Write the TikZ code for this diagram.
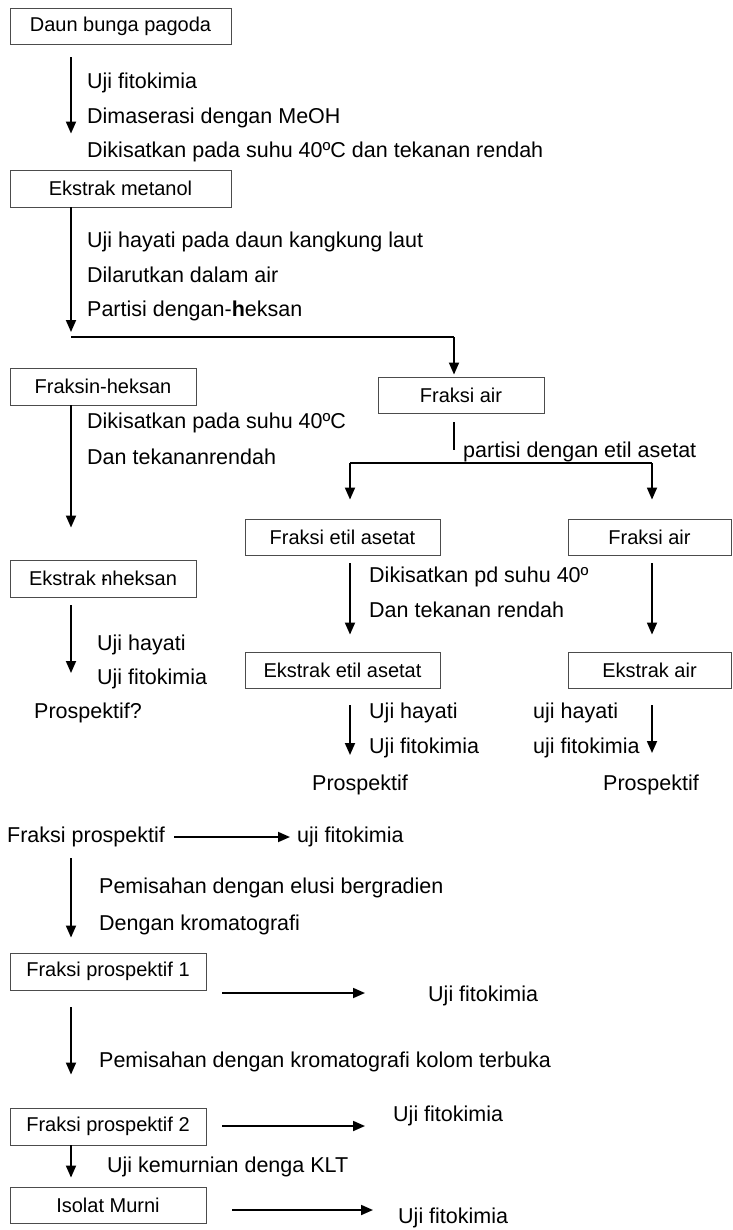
\documentclass[tikz,border=0pt]{standalone}
\usepackage{fontspec}
\setmainfont{Liberation Sans}
\usetikzlibrary{arrows.meta}

\begin{document}
\begin{tikzpicture}[x=1pt, y=-1pt,
    box/.style={draw=black!70, line width=0.9pt, inner sep=0pt, font=\fontsize{20}{24}\selectfont},
    lbl/.style={anchor=west, inner sep=0pt, font=\fontsize{21.5}{25}\selectfont},
    arr/.style={line width=1.8pt, -{Triangle[width=10pt,length=12pt]}},
    ln/.style={line width=1.1pt}]
                \useasboundingbox (0,0) rectangle (732,1230);
                % left column
                \node [box, minimum width=221pt, minimum height=36pt] (daun) at (120.5,26) {Daun bunga pagoda};
                \node [box, minimum width=221pt, minimum height=37pt] (metanol) at (120.5,188.5) {Ekstrak metanol};
                \node [box, minimum width=186pt, minimum height=37pt] (heksan) at (103,386.5) {Fraksin-heksan};
                \node [box, minimum width=186pt, minimum height=37pt] (nheksan) at (103,578.5) {Ekstrak \rlap{-}nheksan};
                % right part
                \node [box, minimum width=166pt, minimum height=36pt] (air) at (461,395) {Fraksi air};
                \node [box, minimum width=195pt, minimum height=36pt] (etil) at (342.5,537) {Fraksi etil asetat};
                \node [box, minimum width=163pt, minimum height=36pt] (airb) at (649.5,537) {Fraksi air};
                \node [box, minimum width=195pt, minimum height=36pt] (eketil) at (342.5,670) {Ekstrak etil asetat};
                \node [box, minimum width=163pt, minimum height=36pt] (ekair) at (649.5,670) {Ekstrak air};
                % bottom part
                \node [lbl] (fprosp) at (7,837) {Fraksi prospektif};
                \node [box, minimum width=196pt, minimum height=37pt] (fp1) at (108,971.5) {Fraksi prospektif 1};
                \node [box, minimum width=196pt, minimum height=37pt] (fp2) at (108,1126.5) {Fraksi prospektif 2};
                \node [box, minimum width=196pt, minimum height=36pt] (isolat) at (108,1205) {Isolat Murni};

                \node [lbl] (t1) at (87,83) {Uji fitokimia};
                \node [lbl] (t2) at (87,118) {Dimaserasi dengan MeOH};
                \node [lbl] (t3) at (87,152) {Dikisatkan pada suhu 40ºC dan tekanan rendah};
                \node [lbl] (t4) at (87,242) {Uji hayati pada daun kangkung laut};
                \node [lbl] (t5) at (87,275) {Dilarutkan dalam air};
                \node [lbl] (t6) at (87,311) {Partisi dengan-\textbf{h}eksan};
                \node [lbl] (t7) at (87,423) {Dikisatkan pada suhu 40ºC};
                \node [lbl] (t8) at (87,457) {Dan tekananrendah};
                \node [lbl] (t9) at (463,452) {partisi dengan etil asetat};
                \node [lbl] (t10) at (369,577) {Dikisatkan pd suhu 40º};
                \node [lbl] (t11) at (369,610) {Dan tekanan rendah};
                \node [lbl] (t12) at (97,645) {Uji hayati};
                \node [lbl] (t13) at (97,679) {Uji fitokimia};
                \node [lbl] (t14) at (34,713) {Prospektif?};
                \node [lbl] (t15) at (369,713) {Uji hayati};
                \node [lbl] (t16) at (369,748) {Uji fitokimia};
                \node [lbl] (t17) at (312,785) {Prospektif};
                \node [lbl] (t18) at (533,713) {uji hayati};
                \node [lbl] (t19) at (533,748) {uji fitokimia};
                \node [lbl] (t20) at (603,785) {Prospektif};
                \node [lbl] (u0) at (297,837) {uji fitokimia};
                \node [lbl] (t21) at (99,888) {Pemisahan dengan elusi bergradien};
                \node [lbl] (t22) at (99,925) {Dengan kromatografi};
                \node [lbl] (u1) at (428,996) {Uji fitokimia};
                \node [lbl] (t23) at (99,1062) {Pemisahan dengan kromatografi kolom terbuka};
                \node [lbl] (u2) at (393,1116) {Uji fitokimia};
                \node [lbl] (t24) at (107,1167) {Uji kemurnian denga KLT};
                \node [lbl] (u3) at (398,1218) {Uji fitokimia};

                % split points and free ends
                \coordinate (xl) at (71,0);
                \coordinate (xm) at (350,0);
                \coordinate (xr) at (652,0);
                \coordinate (split1) at (71,337);
                \coordinate (split1r) at (454,337);
                \coordinate (split2l) at (350,463);
                \coordinate (split2r) at (652,463);
                \coordinate (endl) at (71,673);
                \coordinate (endm) at (350,755);
                \coordinate (endr) at (652,753);
                \coordinate (r1a) at (222,993);
                \coordinate (r1b) at (365,993);
                \coordinate (r2a) at (222,1126);
                \coordinate (r2b) at (365,1126);
                \coordinate (r3a) at (232,1210);
                \coordinate (r3b) at (373,1210);

                % connectors
                \draw [arr, shorten <=13pt, shorten >=36pt] (daun.south -| xl) -- (metanol.north -| xl);
                \draw [arr, shorten >=5pt] (metanol.south -| xl) -- (split1);
                \draw [ln] (split1) -- (split1r);
                \draw [arr, shorten >=2pt] (split1r) -- (air.north -| split1r);
                \draw [ln, shorten <=9pt, shorten >=13pt] (air.south -| split1r) -- (split1r |- split2l);
                \draw [ln] (split2l) -- (split2r);
                \draw [arr, shorten >=19pt] (split2l) -- (etil.north -| xm);
                \draw [arr, shorten >=19pt] (split2r) -- (airb.north -| xr);
                \draw [arr, shorten >=32pt] (heksan.south -| xl) -- (nheksan.north -| xl);
                \draw [arr, shorten <=8pt, shorten >=17pt] (etil.south -| xm) -- (eketil.north -| xm);
                \draw [arr, shorten <=8pt, shorten >=17pt] (airb.south -| xr) -- (ekair.north -| xr);
                \draw [arr, shorten <=8pt] (nheksan.south -| xl) -- (endl);
                \draw [arr, shorten <=17pt] (eketil.south -| xm) -- (endm);
                \draw [arr, shorten <=17pt] (ekair.south -| xr) -- (endr);
                \draw [arr, shorten <=9pt, shorten >=7pt] (fprosp.east) -- (u0.west);
                \draw [arr, shorten <=11pt, shorten >=15pt] (fprosp.south -| xl) -- (fp1.north -| xl);
                \draw [arr] (r1a) -- (r1b);
                \draw [arr, shorten <=17pt, shorten >=33pt] (fp1.south -| xl) -- (fp2.north -| xl);
                \draw [arr] (r2a) -- (r2b);
                \draw [arr, shorten >=9pt] (fp2.south -| xl) -- (isolat.north -| xl);
                \draw [arr] (r3a) -- (r3b);
            \end{tikzpicture}
\end{document}
